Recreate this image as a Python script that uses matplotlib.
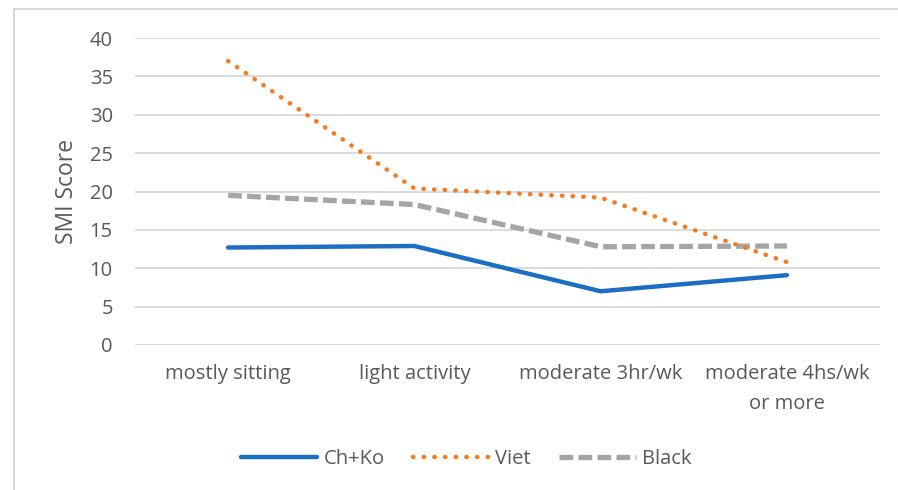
import numpy as np
import matplotlib.pyplot as plt
from matplotlib.patches import Rectangle
from matplotlib.lines import Line2D

categories = ["mostly sitting", "light activity", "moderate 3hr/wk", "moderate 4hs/wk\nor more"]
ch_ko = [12.7, 12.9, 7.0, 9.1]
viet = [37.0, 20.4, 19.2, 10.8]
black = [19.5, 18.3, 12.8, 12.9]
y_ticks = [0, 5, 10, 15, 20, 25, 30, 35, 40]

plt.rcParams['font.family'] = ['Open Sans', 'DejaVu Sans']
TXT = "#595959"
GRID = "#D9D9D9"
FS = 14.5

fig = plt.figure(figsize=(8.98, 4.9), dpi=100)
ax = fig.add_axes([135 / 898, 1 - 345 / 490, 745 / 898, 307 / 490])

x = np.arange(len(categories))
ax.plot(x, black, color="#A5A5A5", lw=3.8, dashes=(2.6, 1.0), label="Black", zorder=3)
ax.plot(x, viet, color="#F47B20", lw=3.2, linestyle=(0, (0.1, 2.3)), dash_capstyle="round",
        label="Viet", zorder=4)
ax.plot(x, ch_ko, color="#1B6EC2", lw=3.2, solid_capstyle="round", label="Ch+Ko", zorder=5)

ax.set_xlim(-0.5, len(categories) - 0.5)
ax.set_ylim(0, 40)
ax.set_yticks(y_ticks)
ax.set_xticks(x)
ax.set_xticklabels(categories, linespacing=1.65)
ax.tick_params(axis="both", length=0, colors=TXT, labelsize=FS)
ax.tick_params(axis="x", pad=14)
ax.tick_params(axis="y", pad=16)
ax.grid(axis="y", color=GRID, lw=1.3)
ax.set_axisbelow(True)
for s in ax.spines.values():
    s.set_visible(False)
ax.set_ylabel("SMI Score", color=TXT, fontsize=16.5, labelpad=8)

handles = [
    Line2D([], [], color="#1B6EC2", lw=3.2, solid_capstyle="round"),
    Line2D([], [], color="#F47B20", lw=3.2, linestyle=(0, (0.1, 2.3)), dash_capstyle="round"),
    Line2D([], [], color="#A5A5A5", lw=3.8, dashes=(2.6, 1.0)),
]
leg = fig.legend(handles, ["Ch+Ko", "Viet", "Black"], loc="center", bbox_to_anchor=(466 / 898, 1 - 459 / 490),
                 ncol=3, frameon=False, fontsize=FS, handlelength=3.8, handletextpad=0.3,
                 columnspacing=1.4)
for t in leg.get_texts():
    t.set_color(TXT)

# outer chart border (cropped at right and bottom)
fig.patches.append(Rectangle((14 / 898, -0.1), 1.2, 1 - 9 / 490 + 0.1, transform=fig.transFigure,
                             fill=False, edgecolor=GRID, lw=1.5))

fig.savefig("out.png", dpi=100)
